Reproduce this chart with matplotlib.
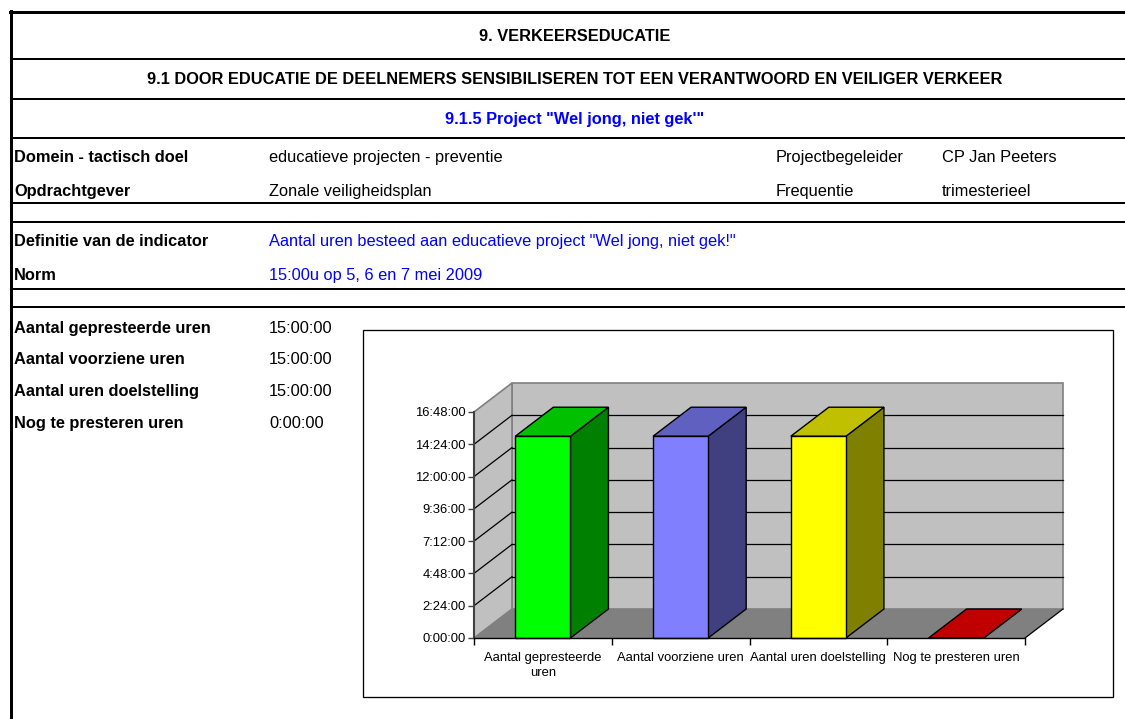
import matplotlib
matplotlib.use("Agg")
import matplotlib.pyplot as plt
from matplotlib.patches import Polygon, Rectangle
from matplotlib.ticker import FuncFormatter

plt.rcParams["font.family"] = ["Liberation Sans", "DejaVu Sans"]

# ---- data ----
categories = ["Aantal gepresteerde\nuren", "Aantal voorziene uren",
              "Aantal uren doelstelling", "Nog te presteren uren"]
hours = [15.0, 15.0, 15.0, 0.0]
y_ticks = [0, 2.4, 4.8, 7.2, 9.6, 12.0, 14.4, 16.8]

front_colors = ["#00FF00", "#8080FF", "#FFFF00", "#FF0000"]
side_colors = ["#008000", "#404080", "#808000", "#800000"]
top_colors = ["#00C000", "#6060C0", "#C0C000", "#C00000"]

title1 = "9. VERKEERSEDUCATIE"
title2 = "9.1 DOOR EDUCATIE DE DEELNEMERS SENSIBILISEREN TOT EEN VERANTWOORD EN VEILIGER VERKEER"
title3 = "9.1.5 Project \"Wel jong, niet gek'\""

info_rows = [
    ("Domein - tactisch doel", "educatieve projecten - preventie", "black"),
    ("Opdrachtgever", "Zonale veiligheidsplan", "black"),
    ("Definitie van de indicator", "Aantal uren besteed aan educatieve project \"Wel jong, niet gek!\"", "blue"),
    ("Norm", "15:00u op 5, 6 en 7 mei 2009", "blue"),
]
extra_rows = [("Projectbegeleider", "CP Jan Peeters"), ("Frequentie", "trimesterieel")]
summary_labels = ["Aantal gepresteerde uren", "Aantal voorziene uren",
                  "Aantal uren doelstelling", "Nog te presteren uren"]
summary_values = ["15:00:00", "15:00:00", "15:00:00", "0:00:00"]

W, H = 1125, 719
fig = plt.figure(figsize=(W / 100, H / 100), dpi=100)
fig.patch.set_facecolor("white")

# ---- spreadsheet table (pixel coordinates) ----
tab = fig.add_axes([0, 0, 1, 1])
tab.set_xlim(0, W)
tab.set_ylim(H, 0)
tab.axis("off")

px = 0.72  # 1 px in points
tab.plot([11, 11], [11, H], color="black", lw=3 * px)
tab.plot([10, W], [12, 12], color="black", lw=3 * px)
for y in [59, 99, 138, 203, 222, 289, 307]:
    tab.plot([11, W], [y, y], color="black", lw=2 * px)

fs = 11.8
b = 6  # cap-centre to baseline offset in px

def cell(x, y, s, **kw):
    tab.text(x, y + b, s, va="baseline", fontsize=fs, **kw)

cell(575, 35, title1, ha="center", fontweight="bold")
cell(575, 78, title2, ha="center", fontweight="bold")
cell(575, 118, title3, ha="center", fontweight="bold", color="blue")

for (lab, val, col), y in zip(info_rows, [156, 190, 240, 274]):
    cell(14, y, lab, ha="left", fontweight="bold")
    cell(269, y, val, ha="left", color=col)
for (lab, val), y in zip(extra_rows, [156, 190]):
    cell(776, y, lab, ha="left")
    cell(942, y, val, ha="left")
for lab, val, y in zip(summary_labels, summary_values, [327, 358, 390, 422]):
    cell(14, y, lab, ha="left", fontweight="bold")
    cell(269, y, val, ha="left")

# chart frame
tab.add_patch(Rectangle((363, 330), 750, 367, fill=False, ec="black", lw=1.3 * px))

# ---- 3D-look column chart ----
x0, x1, ytop, ybot = 474, 1025, 412, 638
ax = fig.add_axes([x0 / W, 1 - ybot / H, (x1 - x0) / W, (ybot - ytop) / H])
n = len(categories)
ymax = y_ticks[-1]
ax.set_xlim(0, n)
ax.set_ylim(0, ymax)
ax.patch.set_visible(False)
dx = n * 38 / (x1 - x0)
dy = ymax * 29 / (ybot - ytop)

def poly(pts, fc, ec, lw=1.0, z=1):
    ax.add_patch(Polygon(pts, closed=True, fc=fc, ec=ec, lw=lw, zorder=z, clip_on=False))

# walls and floor
poly([(dx, dy), (n + dx, dy), (n + dx, ymax + dy), (dx, ymax + dy)], "#C0C0C0", "#808080", 1.2, 1)
poly([(0, 0), (dx, dy), (dx, ymax + dy), (0, ymax)], "#C0C0C0", "#808080", 1.2, 1)
for t in y_ticks[1:-1]:
    ax.plot([dx, n + dx], [t + dy, t + dy], color="black", lw=0.9, zorder=2, clip_on=False)
    ax.plot([0, dx], [t, t + dy], color="black", lw=0.9, zorder=2, clip_on=False)
poly([(0, 0), (n, 0), (n + dx, dy), (dx, dy)], "#808080", "none", 0, 3)
ax.plot([n, n + dx], [0, dy], color="black", lw=0.9, zorder=3, clip_on=False)

# bars
bw = 0.4
for i, v in enumerate(hours):
    l, r = i + 0.5 - bw / 2, i + 0.5 + bw / 2
    z = 4 + i
    poly([(r, 0), (r + dx, dy), (r + dx, v + dy), (r, v)], side_colors[i], "black", 1.0, z)
    poly([(l, v), (r, v), (r + dx, v + dy), (l + dx, v + dy)], top_colors[i], "black", 1.0, z)
    if v > 0:
        poly([(l, 0), (r, 0), (r, v), (l, v)], front_colors[i], "black", 1.0, z)

# axes
for s in ["top", "right"]:
    ax.spines[s].set_visible(False)
ax.spines["left"].set_color("#404040")
ax.spines["left"].set_linewidth(1.5)
ax.spines["bottom"].set_color("black")
ax.spines["bottom"].set_linewidth(1.0)
ax.spines["left"].set_zorder(20)
ax.spines["bottom"].set_zorder(20)

def hms(v, pos):
    total = int(round(v * 3600))
    return f"{total // 3600}:{(total % 3600) // 60:02d}:{total % 60:02d}"

ax.set_yticks(y_ticks)
ax.yaxis.set_major_formatter(FuncFormatter(hms))
ax.tick_params(axis="y", length=4, width=1, color="#404040", pad=2, labelsize=9.4)

ax.set_xticks(range(n + 1))
ax.set_xticklabels([""] * (n + 1))
ax.set_xticks([i + 0.5 for i in range(n)], minor=True)
ax.set_xticklabels(categories, minor=True, fontsize=9.4, linespacing=1.3)
ax.tick_params(axis="x", which="major", length=5, width=1, color="black")
ax.tick_params(axis="x", which="minor", length=0, pad=10)

fig.savefig("out.png", dpi=100)
